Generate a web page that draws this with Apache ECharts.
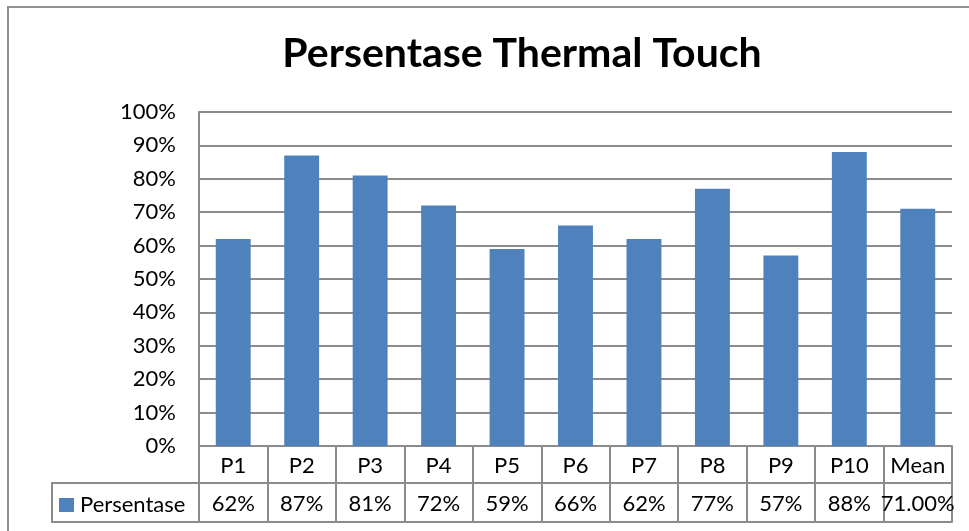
<!DOCTYPE html>
<html>
<head>
<meta charset="utf-8">
<script src="https://cdn.jsdelivr.net/npm/echarts@6/dist/echarts.min.js"></script>
<style>
  html, body { margin: 0; padding: 0; background: #ffffff; }
  #frame { position: absolute; left: 7px; top: 6px; width: 980px; height: 540px;
           border-left: 2px solid #909090; border-top: 2px solid #909090; }
  #chart { position: absolute; left: 0; top: 0; width: 969px; height: 531px; }
</style>
</head>
<body>
<div id="frame"></div>
<div id="chart"></div>
<script>
// Thermal touch percentages per participant, plus the group mean
const categories = ['P1', 'P2', 'P3', 'P4', 'P5', 'P6', 'P7', 'P8', 'P9', 'P10', 'Mean'];
const persentase = [0.62, 0.87, 0.81, 0.72, 0.59, 0.66, 0.62, 0.77, 0.57, 0.88, 0.71];
const decimals   = [0, 0, 0, 0, 0, 0, 0, 0, 0, 0, 2];
const seriesName = 'Persentase';
const titleText  = 'Persentase Thermal Touch';

const FONT = 'Lato';
const GRID = '#8c8c8c';
const BAR  = '#4f81bd';
const LABEL_SIZE = 22;

function pct(v, d) { return (v * 100).toFixed(d) + '%'; }

const chart = echarts.init(document.getElementById('chart'), null, { renderer: 'canvas' });

chart.setOption({
  animation: false,
  title: {
    text: titleText,
    left: 517,
    top: 28,
    textAlign: 'center',
    textStyle: { fontFamily: FONT, fontWeight: 'bold', fontSize: 41, color: '#000000' }
  },
  legend: {
    data: [seriesName],
    left: 59,
    top: 494,
    padding: 0,
    itemWidth: 15,
    itemHeight: 14,
    itemGap: 6,
    icon: 'rect',
    textStyle: { fontFamily: FONT, fontSize: LABEL_SIZE, color: '#000000', padding: [0, 0, 0, 1] }
  },
  grid: { left: 199, right: 17, top: 112, bottom: 85, containLabel: false },
  yAxis: {
    type: 'value',
    min: 0,
    max: 1,
    interval: 0.1,
    axisLine: { show: true, lineStyle: { color: GRID, width: 2 } },
    axisTick: { show: false },
    splitLine: { show: true, lineStyle: { color: GRID, width: 2 } },
    axisLabel: {
      margin: 23,
      fontFamily: FONT, fontSize: LABEL_SIZE, color: '#000000',
      formatter: v => Math.round(v * 100) + '%'
    }
  },
  xAxis: [
    {
      // category row of the data table
      type: 'category',
      data: categories,
      position: 'bottom',
      axisLine: { show: true, lineStyle: { color: GRID, width: 2 } },
      axisTick: { show: true, length: 76, inside: false, lineStyle: { color: GRID, width: 2 } },
      axisLabel: { margin: 9, fontFamily: FONT, fontSize: LABEL_SIZE, color: '#000000', interval: 0 }
    },
    {
      // value row of the data table
      type: 'category',
      data: categories,
      position: 'bottom',
      offset: 37,
      axisLine: { show: true, lineStyle: { color: GRID, width: 2 } },
      axisTick: { show: false },
      axisLabel: {
        margin: 10, fontFamily: FONT, fontSize: LABEL_SIZE, color: '#000000', interval: 0,
        formatter: (val, idx) => pct(persentase[idx], decimals[idx])
      }
    },
    {
      // bottom edge of the data table
      type: 'category',
      data: categories,
      position: 'bottom',
      offset: 76,
      axisLine: { show: true, lineStyle: { color: GRID, width: 2 } },
      axisTick: { show: false },
      axisLabel: { show: false }
    }
  ],
  graphic: [
    {
      // legend cell of the data table
      type: 'polyline',
      shape: { points: [[199, 483], [52, 483], [52, 522], [199, 522]] },
      style: { stroke: GRID, lineWidth: 2, fill: null },
      silent: true
    }
  ],
  series: [
    {
      name: seriesName,
      type: 'bar',
      xAxisIndex: 0,
      data: persentase,
      barWidth: '51%',
      itemStyle: { color: BAR }
    }
  ]
});
</script>
</body>
</html>
